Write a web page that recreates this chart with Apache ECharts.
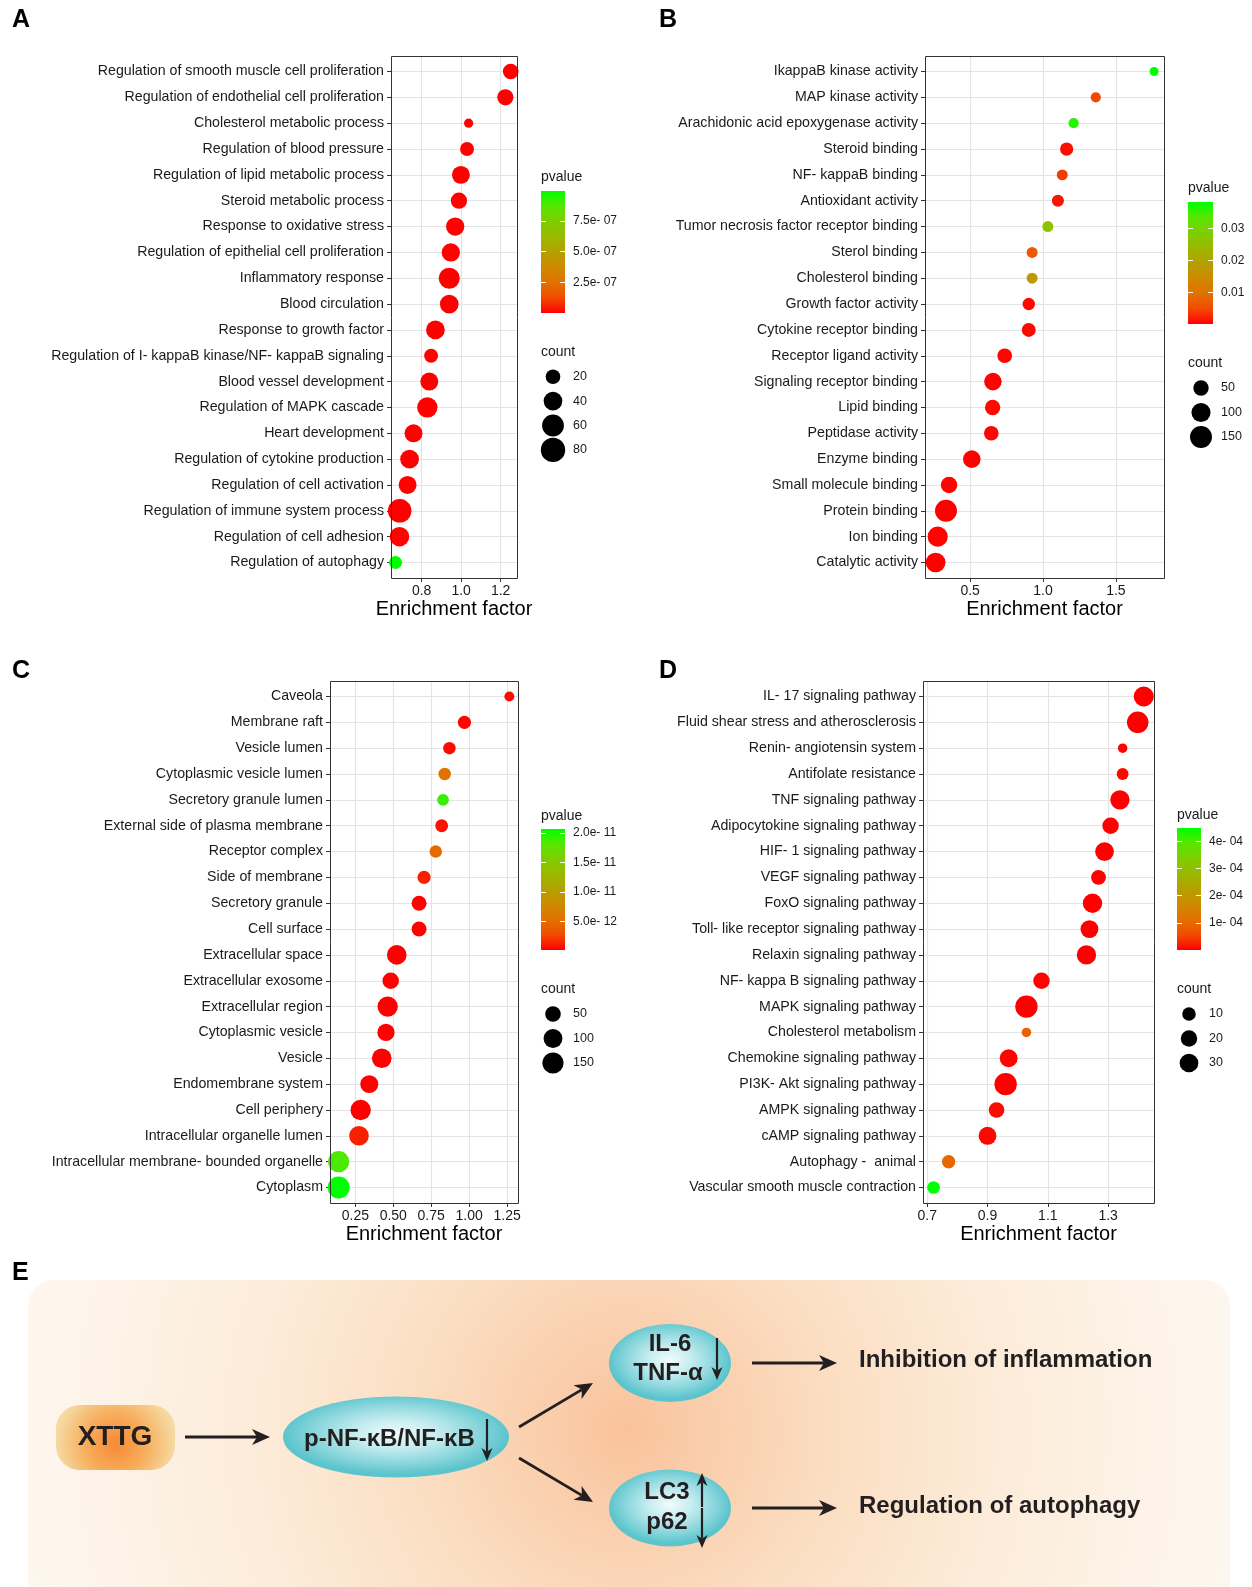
<!DOCTYPE html>
<html><head><meta charset="utf-8">
<script src="https://cdn.jsdelivr.net/npm/echarts@6/dist/echarts.min.js"></script>
<style>html,body{margin:0;padding:0;background:#fff}#c{width:1252px;height:1587px}</style>
</head><body><div id="c"></div>
<script>
// ---------------- DATA ----------------
// Panel A
const catsA = ['Regulation of smooth muscle cell proliferation','Regulation of endothelial cell proliferation','Cholesterol metabolic process','Regulation of blood pressure','Regulation of lipid metabolic process','Steroid metabolic process','Response to oxidative stress','Regulation of epithelial cell proliferation','Inflammatory response','Blood circulation','Response to growth factor','Regulation of I- kappaB kinase/NF- kappaB signaling','Blood vessel development','Regulation of MAPK cascade','Heart development','Regulation of cytokine production','Regulation of cell activation','Regulation of immune system process','Regulation of cell adhesion','Regulation of autophagy'];
const efA = [1.251,1.224,1.038,1.030,0.999,0.989,0.970,0.948,0.940,0.940,0.870,0.848,0.839,0.829,0.759,0.739,0.729,0.689,0.688,0.668];
const countA = [24,27,4,17,36,27,38,38,55,40,40,17,36,50,36,40,36,73,45,14];
const pA = [3.2e-9,1.5e-9,6.8e-9,4.1e-9,2.2e-10,1.9e-9,8.5e-10,3.0e-9,1.2e-12,5.6e-10,2.4e-10,7.7e-9,1.1e-10,4.3e-11,2.9e-9,6.1e-10,3.6e-9,2.0e-13,5.2e-9,9.93e-7];
const xRangeA = [0.645, 1.283];
const xTicksA = [0.8, 1.0, 1.2];
const xTickLabelsA = ['0.8','1.0','1.2'];
const pRangeA = [0, 9.93e-7];
const pTicksA = [2.5e-7, 5.0e-7, 7.5e-7];
const pTickLabelsA = ['2.5e- 07','5.0e- 07','7.5e- 07'];
const sizeLegendA = [20, 40, 60, 80];

// Panel B
const catsB = ['IkappaB kinase activity','MAP kinase activity','Arachidonic acid epoxygenase activity','Steroid binding','NF- kappaB binding','Antioxidant activity','Tumor necrosis factor receptor binding','Sterol binding','Cholesterol binding','Growth factor activity','Cytokine receptor binding','Receptor ligand activity','Signaling receptor binding','Lipid binding','Peptidase activity','Enzyme binding','Small molecule binding','Protein binding','Ion binding','Catalytic activity'];
const efB = [1.762,1.362,1.210,1.162,1.132,1.102,1.033,0.925,0.925,0.902,0.902,0.737,0.656,0.654,0.645,0.511,0.355,0.334,0.277,0.263];
const countB = [4,9,9,29,13,20,13,13,13,23,35,42,77,50,42,77,63,150,117,110];
const pB = [0.0383,0.0048,0.0364,0.0011,0.0040,0.0014,0.0262,0.0067,0.0173,0.0009,0.0008,0.0006,0.0004,0.0007,0.0005,0.0003,0.0006,0.0002,0.0004,0.0003];
const xRangeB = [0.19, 1.83];
const xTicksB = [0.5, 1.0, 1.5];
const xTickLabelsB = ['0.5','1.0','1.5'];
const pRangeB = [0.0002, 0.0383];
const pTicksB = [0.01, 0.02, 0.03];
const pTickLabelsB = ['0.01','0.02','0.03'];
const sizeLegendB = [50, 100, 150];

// Panel C
const catsC = ['Caveola','Membrane raft','Vesicle lumen','Cytoplasmic vesicle lumen','Secretory granule lumen','External side of plasma membrane','Receptor complex','Side of membrane','Secretory granule','Cell surface','Extracellular space','Extracellular exosome','Extracellular region','Cytoplasmic vesicle','Vesicle','Endomembrane system','Cell periphery','Intracellular organelle lumen','Intracellular membrane- bounded organelle','Cytoplasm'];
const efC = [1.265,0.969,0.870,0.839,0.828,0.819,0.780,0.703,0.670,0.670,0.523,0.483,0.463,0.452,0.424,0.342,0.285,0.274,0.140,0.140];
const countC = [3,23,17,17,12,20,17,23,41,41,116,61,131,73,116,85,131,116,149,168];
const pC = [6.0e-13,4.0e-13,5.0e-13,5.4e-12,1.9e-11,8.0e-13,4.9e-12,1.3e-12,3.0e-13,2.6e-13,2.1e-13,2.3e-13,2.0e-13,2.2e-13,2.4e-13,2.5e-13,2.0e-13,1.3e-12,1.85e-11,2.07e-11];
const xRangeC = [0.083, 1.322];
const xTicksC = [0.25, 0.5, 0.75, 1.0, 1.25];
const xTickLabelsC = ['0.25','0.50','0.75','1.00','1.25'];
const pRangeC = [2.0e-13, 2.07e-11];
const pTicksC = [5.0e-12, 1.0e-11, 1.5e-11, 2.0e-11];
const pTickLabelsC = ['5.0e- 12','1.0e- 11','1.5e- 11','2.0e- 11'];
const sizeLegendC = [50, 100, 150];

// Panel D
const catsD = ['IL- 17 signaling pathway','Fluid shear stress and atherosclerosis','Renin- angiotensin system','Antifolate resistance','TNF signaling pathway','Adipocytokine signaling pathway','HIF- 1 signaling pathway','VEGF signaling pathway','FoxO signaling pathway','Toll- like receptor signaling pathway','Relaxin signaling pathway','NF- kappa B signaling pathway','MAPK signaling pathway','Cholesterol metabolism','Chemokine signaling pathway','PI3K- Akt signaling pathway','AMPK signaling pathway','cAMP signaling pathway','Autophagy -  animal','Vascular smooth muscle contraction'];
const efD = [1.418,1.398,1.348,1.348,1.339,1.308,1.288,1.268,1.248,1.238,1.228,1.079,1.029,1.029,0.970,0.960,0.930,0.900,0.771,0.721];
const countD = [37,45,2,6,33,20,30,14,33,26,33,20,50,2,26,50,17,26,10,8];
const pD = [2e-9,1e-10,3e-6,5e-6,1e-10,2e-7,8e-8,6e-7,4e-9,5e-8,3e-8,2e-6,7e-9,0.9e-4,4e-6,3e-7,8e-6,5e-6,1.0e-4,4.49e-4];
const xRangeD = [0.686, 1.452];
const xTicksD = [0.7, 0.9, 1.1, 1.3];
const xTickLabelsD = ['0.7','0.9','1.1','1.3'];
const pRangeD = [0, 4.49e-4];
const pTicksD = [1e-4, 2e-4, 3e-4, 4e-4];
const pTickLabelsD = ['1e- 04','2e- 04','3e- 04','4e- 04'];
const sizeLegendD = [10, 20, 30];

// ---------------- STYLE / LAYOUT ----------------
const FONT = "'Liberation Sans', Arial, Helvetica, sans-serif";
const RAMP = ['#ff0000','#f24b00','#e27100','#ce8a00','#b5a000','#9bb800','#7ecd00','#58e600','#00ff00'];
const TXT = '#1a1a1a';
const GRIDLINE = '#e4e4e4';

const panels = [
  {cats:catsA, ef:efA, cnt:countA, p:pA, xRange:xRangeA, xTicks:xTicksA, xTickLabels:xTickLabelsA, pRange:pRangeA, pTicks:pTicksA, pTickLabels:pTickLabelsA, sizeLegend:sizeLegendA,
   grid:[391,56,126,522], xStep:0.1, bar:[541,191,24,122], pTitle:[541,177], cTitle:[541,352], sizeCol:[553,376.7,24.4], size:[4.9,2.18], letter:[12,20.5,'A']},
  {cats:catsB, ef:efB, cnt:countB, p:pB, xRange:xRangeB, xTicks:xTicksB, xTickLabels:xTickLabelsB, pRange:pRangeB, pTicks:pTicksB, pTickLabels:pTickLabelsB, sizeLegend:sizeLegendB,
   grid:[925,56,239,522], xStep:0.25, bar:[1188,202,25,122], pTitle:[1188,188], cTitle:[1188,363], sizeCol:[1201,388,24.5], size:[6.4,1.27], letter:[659,20.5,'B']},
  {cats:catsC, ef:efC, cnt:countC, p:pC, xRange:xRangeC, xTicks:xTicksC, xTickLabels:xTickLabelsC, pRange:pRangeC, pTicks:pTicksC, pTickLabels:pTickLabelsC, sizeLegend:sizeLegendC,
   grid:[330,681,188,522], xStep:0.125, bar:[541,829,24,121], pTitle:[541,816], cTitle:[541,989], sizeCol:[553,1014,24.5], size:[8.1,1.07], letter:[12,671,'C']},
  {cats:catsD, ef:efD, cnt:countD, p:pD, xRange:xRangeD, xTicks:xTicksD, xTickLabels:xTickLabelsD, pRange:pRangeD, pTicks:pTicksD, pTickLabels:pTickLabelsD, sizeLegend:sizeLegendD,
   grid:[923,681,231,522], xStep:0.1, bar:[1177,828,24,122], pTitle:[1177,815], cTitle:[1177,989], sizeCol:[1189,1014,24.5], size:[6.3,2.27], letter:[659,671,'D']}
];

function lookup(ticks, labels) {
  return function (v) {
    for (let i = 0; i < ticks.length; i++) {
      if (Math.abs(ticks[i] - v) <= Math.abs(ticks[i]) * 1e-6 + 1e-20) return labels[i];
    }
    return '';
  };
}

const grids = [], xAxes = [], yAxes = [], series = [], visualMaps = [], graphics = [];

panels.forEach(function (P) {
  const a = P.size[0], b = P.size[1];
  const sizeFn = function (v) { return a + b * Math.sqrt(v[3]); };
  const idx = P.cats.map(function (_, i) { return i; });
  const gi = grids.length;
  grids.push({left:P.grid[0], top:P.grid[1], width:P.grid[2], height:P.grid[3], show:false});
  const xi = xAxes.length;
  xAxes.push({gridIndex:gi, type:'value', position:'bottom', min:P.xRange[0], max:P.xRange[1], minInterval:P.xStep, maxInterval:P.xStep,
    axisLine:{show:false, onZero:false},
    axisTick:{show:true, length:4, customValues:P.xTicks, lineStyle:{color:'#333', width:1}},
    axisLabel:{customValues:P.xTicks, formatter:lookup(P.xTicks, P.xTickLabels), fontSize:14, color:TXT, fontFamily:FONT, margin:6},
    splitLine:{show:true, lineStyle:{color:GRIDLINE, width:1.2}},
    name:'Enrichment factor', nameLocation:'middle', nameGap:21,
    nameTextStyle:{fontSize:20, color:'#000', fontFamily:FONT}});
  const yi = yAxes.length;
  yAxes.push({gridIndex:gi, type:'value', position:'left', inverse:true, min:-0.6, max:P.cats.length - 0.4, minInterval:1, maxInterval:1,
    axisLine:{show:false, onZero:false},
    axisTick:{show:true, length:4, customValues:idx, lineStyle:{color:'#333', width:1}},
    axisLabel:{customValues:idx, formatter:function (v) { return P.cats[Math.round(v)] || ''; }, fontSize:14.2, color:TXT, fontFamily:FONT, margin:7},
    splitLine:{show:true, lineStyle:{color:GRIDLINE, width:1.2}}});
  const si = series.length;
  series.push({type:'scatter', xAxisIndex:xi, yAxisIndex:yi, symbol:'circle', symbolSize:sizeFn, silent:true, animation:false,
    itemStyle:{opacity:1}, z:3,
    data:P.ef.map(function (x, j) { return [x, j, P.p[j], P.cnt[j]]; })});
  visualMaps.push({type:'continuous', show:false, seriesIndex:si, dimension:2, min:P.pRange[0], max:P.pRange[1], inRange:{color:RAMP}});

  graphics.push({type:'rect', z:100, silent:true, shape:{x:P.grid[0] + 0.5, y:P.grid[1] + 0.5, width:P.grid[2], height:P.grid[3]},
    style:{fill:'none', stroke:'#333', lineWidth:1}});
  graphics.push({type:'text', x:P.letter[0], y:P.letter[1], z:100,
    style:{text:P.letter[2], font:'bold 25px ' + FONT, fill:'#000', align:'left', verticalAlign:'middle', textAlign:'left', textVerticalAlign:'middle'}});

  // colour bar legend
  const cg = grids.length;
  grids.push({left:P.bar[0], top:P.bar[1], width:P.bar[2], height:P.bar[3], show:false});
  xAxes.push({gridIndex:cg, type:'value', show:false, min:0, max:1, axisLine:{onZero:false}});
  yAxes.push({gridIndex:cg, type:'value', position:'right', min:P.pRange[0], max:P.pRange[1],
    axisLine:{show:false, onZero:false}, splitLine:{show:false},
    axisTick:{show:true, inside:true, length:5, customValues:P.pTicks, lineStyle:{color:'#ffffff', width:1}},
    axisLabel:{customValues:P.pTicks, formatter:lookup(P.pTicks, P.pTickLabels), fontSize:12, color:TXT, fontFamily:FONT, margin:8}});
  yAxes.push({gridIndex:cg, type:'value', position:'left', min:P.pRange[0], max:P.pRange[1],
    axisLine:{show:false, onZero:false}, splitLine:{show:false}, axisLabel:{show:false},
    axisTick:{show:true, inside:true, length:5, customValues:P.pTicks, lineStyle:{color:'#ffffff', width:1}}});
  graphics.push({type:'rect', z:-1, silent:true, shape:{x:P.bar[0], y:P.bar[1], width:P.bar[2], height:P.bar[3]},
    style:{fill:{type:'linear', x:0, y:1, x2:0, y2:0,
      colorStops:RAMP.map(function (c, i) { return {offset:i / (RAMP.length - 1), color:c}; })}}});
  graphics.push({type:'text', x:P.pTitle[0], y:P.pTitle[1], style:{text:'pvalue', font:'14px ' + FONT, fill:TXT, align:'left', verticalAlign:'middle', textAlign:'left', textVerticalAlign:'middle'}});
  graphics.push({type:'text', x:P.cTitle[0], y:P.cTitle[1], style:{text:'count', font:'14px ' + FONT, fill:TXT, align:'left', verticalAlign:'middle', textAlign:'left', textVerticalAlign:'middle'}});

  // size legend
  const n = P.sizeLegend.length;
  const sIdx = P.sizeLegend.map(function (_, i) { return i; });
  const sg = grids.length;
  const step = P.sizeCol[2];
  grids.push({left:P.sizeCol[0] - 12, top:P.sizeCol[1] - step / 2, width:24, height:step * n, show:false});
  const sx = xAxes.length;
  xAxes.push({gridIndex:sg, type:'value', show:false, min:-1, max:1, axisLine:{onZero:false}});
  const sy = yAxes.length;
  yAxes.push({gridIndex:sg, type:'value', position:'right', inverse:true, min:-0.5, max:n - 0.5,
    axisLine:{show:false, onZero:false}, splitLine:{show:false}, axisTick:{show:false},
    axisLabel:{customValues:sIdx, formatter:function (v) { const k = Math.round(v); return P.sizeLegend[k] != null ? String(P.sizeLegend[k]) : ''; },
      fontSize:12.5, color:TXT, fontFamily:FONT, margin:8}});
  series.push({type:'scatter', xAxisIndex:sx, yAxisIndex:sy, symbol:'circle', silent:true, animation:false,
    symbolSize:function (v) { return a + b * Math.sqrt(v[2]); }, itemStyle:{color:'#000', opacity:1},
    data:P.sizeLegend.map(function (c, j) { return [0, j, c]; })});
});

// ---------------- PANEL E (schematic) ----------------
const INK = '#231f20';
function arrowEls(x1, y1, x2, y2, lw, hl, hw) {
  const dx = x2 - x1, dy = y2 - y1, len = Math.hypot(dx, dy), ux = dx / len, uy = dy / len, px = -uy, py = ux;
  const bx = x2 - ux * hl, by = y2 - uy * hl, nx = x2 - ux * hl * 0.72, ny = y2 - uy * hl * 0.72;
  return [
    {type:'line', z:5, silent:true, shape:{x1:x1, y1:y1, x2:nx, y2:ny}, style:{stroke:INK, lineWidth:lw}},
    {type:'polygon', z:5, silent:true, shape:{points:[[x2, y2], [bx + px * hw, by + py * hw], [nx, ny], [bx - px * hw, by - py * hw]]}, style:{fill:INK}}
  ];
}
function tealEllipse(cx, cy, rx, ry) {
  return {type:'circle', z:2, silent:true, x:cx, y:cy, scaleY:ry / rx, shape:{cx:0, cy:0, r:rx},
    style:{fill:{type:'radial', x:0.5, y:0.46, r:0.5, colorStops:[
      {offset:0, color:'#f0fbfb'}, {offset:0.35, color:'#c7edf0'}, {offset:0.75, color:'#86d5db'}, {offset:1, color:'#5bc4cc'}]}}};
}
function etext(x, y, t, align, size) {
  return {type:'text', z:6, silent:true, x:x, y:y, style:{text:t, font:'bold ' + (size || 24) + 'px ' + FONT, fill:INK,
    align:align || 'center', verticalAlign:'middle', textAlign:align || 'center', textVerticalAlign:'middle'}};
}

graphics.push({type:'text', x:12, y:1273, z:100, style:{text:'E', font:'bold 25px ' + FONT, fill:'#000', align:'left', verticalAlign:'middle', textAlign:'left', textVerticalAlign:'middle'}});
graphics.push({type:'rect', z:-2, silent:true, shape:{x:28, y:1280, width:1202, height:340, r:26},
  style:{fill:{type:'radial', x:627, y:1430, r:700, global:true, colorStops:[
    {offset:0, color:'#f9c29a'}, {offset:0.1, color:'#faccaa'}, {offset:0.3, color:'#fbdec2'},
    {offset:0.52, color:'#fcebd8'}, {offset:0.75, color:'#fdf3e8'}, {offset:1, color:'#fefaf4'}]}}});
graphics.push({type:'rect', z:2, silent:true, shape:{x:56, y:1405, width:119, height:65, r:24},
  style:{fill:{type:'radial', x:0.5, y:0.6, r:1.0, colorStops:[
    {offset:0, color:'#f78a34'}, {offset:0.45, color:'#f7ac5a'}, {offset:0.9, color:'#f5d9a0'}, {offset:1, color:'#f5dea8'}]}}});
graphics.push(etext(115, 1437, 'XTTG', 'center', 28));
graphics.push(tealEllipse(396, 1437, 113, 40.5));
graphics.push(tealEllipse(670, 1363, 61, 39));
graphics.push(tealEllipse(670, 1508, 61, 38.5));
graphics.push(etext(304, 1439, 'p-NF-\u03baB/NF-\u03baB', 'left'));
graphics.push(etext(670, 1344, 'IL-6'));
graphics.push(etext(668, 1373, 'TNF-\u03b1'));
graphics.push(etext(667, 1492, 'LC3'));
graphics.push(etext(667, 1522, 'p62'));
graphics.push(etext(859, 1360, 'Inhibition of inflammation', 'left'));
graphics.push(etext(859, 1506, 'Regulation of autophagy', 'left'));
[].concat(
  arrowEls(185, 1437, 270, 1437, 2.8, 18, 8),
  arrowEls(519, 1427, 593, 1383, 2.8, 18, 8),
  arrowEls(519, 1458, 593, 1502, 2.8, 18, 8),
  arrowEls(752, 1363, 837, 1363, 2.8, 18, 8),
  arrowEls(752, 1508, 837, 1508, 2.8, 18, 8),
  arrowEls(487, 1419, 487, 1461, 2.2, 13, 5.5),
  arrowEls(717, 1338, 717, 1380, 2.2, 13, 5.5),
  arrowEls(702, 1507, 702, 1473, 2.2, 13, 5.5),
  arrowEls(702, 1508, 702, 1548, 2.2, 13, 5.5)
).forEach(function (e) { graphics.push(e); });

const chart = echarts.init(document.getElementById('c'), null, {renderer:'canvas'});
chart.setOption({
  backgroundColor:'#ffffff',
  animation:false,
  textStyle:{fontFamily:FONT},
  grid:grids,
  xAxis:xAxes,
  yAxis:yAxes,
  visualMap:visualMaps,
  series:series,
  graphic:{elements:graphics}
});
</script>
</body></html>
